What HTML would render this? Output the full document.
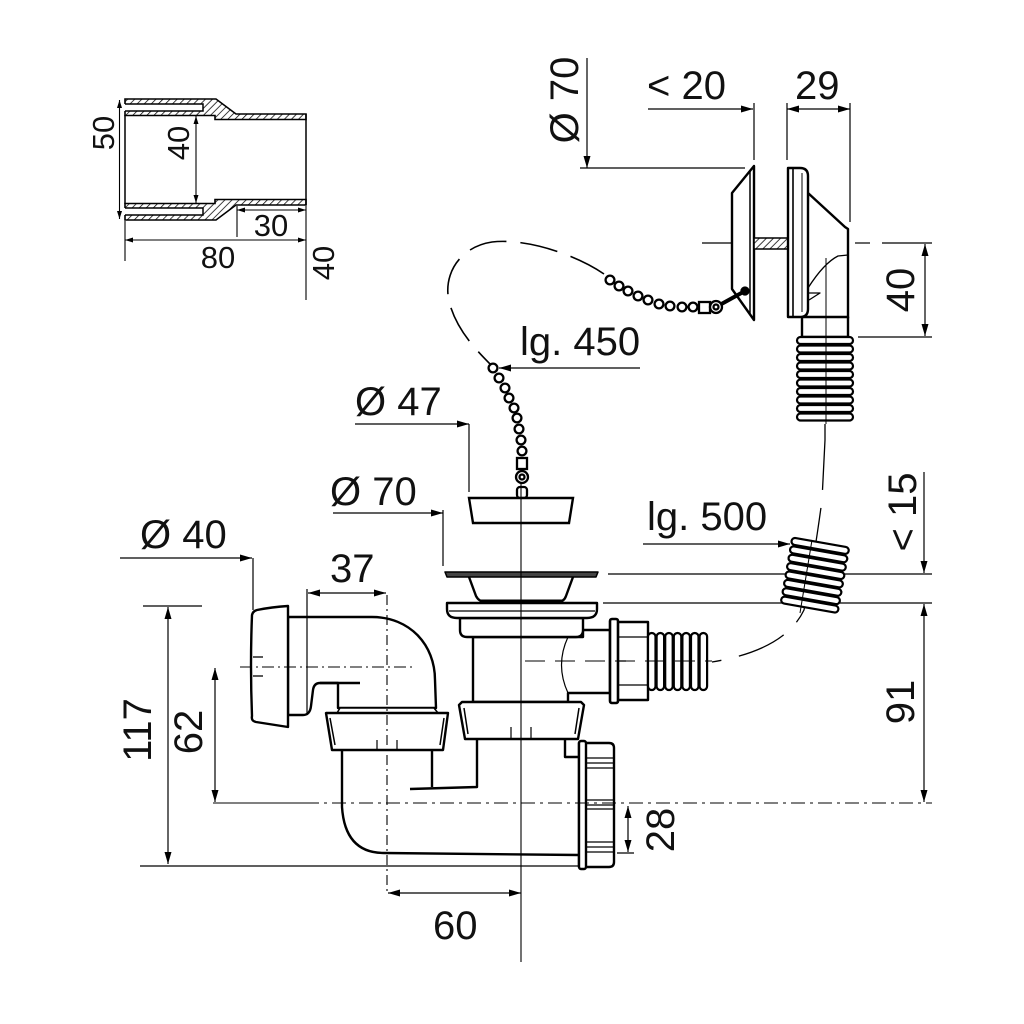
<!DOCTYPE html>
<html><head><meta charset="utf-8"><style>
html,body{margin:0;padding:0;background:#fff;}
svg{display:block;}
text{font-family:"Liberation Sans",Arial,sans-serif;fill:#111;}
</style></head><body>
<svg width="1024" height="1024" viewBox="0 0 1024 1024" xmlns="http://www.w3.org/2000/svg">
<defs>
<marker id="a" viewBox="0 0 12 7" refX="12" refY="3.5" markerWidth="12" markerHeight="7" markerUnits="userSpaceOnUse" orient="auto-start-reverse"><path d="M0,0 L12,3.5 L0,7 z" fill="#000"/></marker>
<marker id="s" viewBox="0 0 8 5" refX="8" refY="2.5" markerWidth="8" markerHeight="5" markerUnits="userSpaceOnUse" orient="auto-start-reverse"><path d="M0,0 L8,2.5 L0,5 z" fill="#000"/></marker>
<pattern id="h" width="5" height="5" patternUnits="userSpaceOnUse" patternTransform="rotate(45)"><rect width="5" height="5" fill="#fff"/><line x1="0" y1="0" x2="0" y2="5" stroke="#000" stroke-width="1.5"/></pattern>
</defs>

<!-- ============ TOP-LEFT PIPE ============ -->
<g stroke="#000" stroke-width="1.6" fill="url(#h)">
<path d="M125,99 L216,99 L236,114 L306,114 L306,119.5 L215,119.5 L215,115.5 L125,115.5 Z"/>
<path d="M125,220 L216,220 L236,205 L306,205 L306,199.5 L215,199.5 L215,203.5 L125,203.5 Z"/>
</g>
<g stroke="#000" stroke-width="1.5" fill="#fff">
<rect x="124" y="104" width="79" height="7" stroke="none"/>
<rect x="124" y="208" width="79" height="7" stroke="none"/>
<path d="M125,104 L203,104 L203,111 L125,111" fill="none"/>
<path d="M125,215 L203,215 L203,208 L125,208" fill="none"/>
<line x1="125" y1="115" x2="125" y2="204"/>
<line x1="306" y1="114" x2="306" y2="205"/>
</g>
<g stroke="#000" stroke-width="1.1" fill="none">
<line x1="119.5" y1="100" x2="119.5" y2="219" marker-start="url(#s)" marker-end="url(#s)"/>
<line x1="196" y1="116" x2="196" y2="203" marker-start="url(#s)" marker-end="url(#s)"/>
<line x1="237" y1="210" x2="306" y2="210" marker-start="url(#s)" marker-end="url(#s)"/>
<line x1="237" y1="206" x2="237" y2="237"/>
<line x1="125" y1="240" x2="306" y2="240" marker-start="url(#s)" marker-end="url(#s)"/>
<line x1="125" y1="221" x2="125" y2="261"/>
<line x1="306" y1="206" x2="306" y2="300"/>
</g>
<text font-size="31" text-anchor="middle" transform="translate(103,133) rotate(-90)" y="11">50</text>
<text font-size="31" text-anchor="middle" transform="translate(178,143) rotate(-90)" y="11">40</text>
<text font-size="31" x="271" y="236" text-anchor="middle">30</text>
<text font-size="31" x="218" y="268" text-anchor="middle">80</text>
<text font-size="31" text-anchor="middle" transform="translate(323,263) rotate(-90)" y="11">40</text>

<!-- ============ TOP-RIGHT OVERFLOW ============ -->
<g stroke="#000" stroke-width="1.2" fill="none">
<line x1="587" y1="58" x2="587" y2="168" marker-end="url(#a)"/>
<line x1="580" y1="168" x2="745" y2="168"/>
<line x1="648" y1="109" x2="753" y2="109" marker-end="url(#a)"/>
<line x1="787" y1="109" x2="850" y2="109" marker-start="url(#a)" marker-end="url(#a)"/>
<line x1="754" y1="103" x2="754" y2="160"/>
<line x1="787" y1="103" x2="787" y2="160"/>
<line x1="850" y1="103" x2="850" y2="222"/>
<line x1="702" y1="243" x2="846" y2="243"/>
<line x1="855" y1="243" x2="870" y2="243"/>
<line x1="882" y1="243" x2="932" y2="243"/>
<line x1="925" y1="244" x2="925" y2="336" marker-start="url(#a)" marker-end="url(#a)"/>
<line x1="858" y1="337" x2="932" y2="337"/>
</g>
<text font-size="40" text-anchor="middle" transform="translate(564,100) rotate(-90)" y="14">Ø 70</text>
<text font-size="40" x="647" y="99">&lt; 20</text>
<text font-size="40" x="795" y="99">29</text>
<text font-size="40" text-anchor="middle" transform="translate(900,290) rotate(-90)" y="14">40</text>

<g stroke="#000" stroke-width="2.4" fill="#fff" stroke-linejoin="round">
<path d="M754,166 L732,193 L732,289 L754,320 Z"/>
<line x1="750" y1="171" x2="750" y2="315" stroke-width="1.5"/>
<rect x="754" y="238" width="34" height="11" fill="url(#h)" stroke-width="1.6"/>
<path d="M808,193 L845,227 L848,229 L848,318 L806,318 Z"/>
<path d="M788,168 L800,168 Q808,168 808,176 L808,309 Q808,317 800,317 L788,317 Z"/>
<line x1="793" y1="168" x2="793" y2="317" stroke-width="1.6"/>
<line x1="802" y1="173" x2="802" y2="312" stroke-width="1"/>
<path d="M808,288 Q824,263 838,256 L848,255" fill="none" stroke-width="1.3"/>
<path d="M808,293 L820,293 L809,300" fill="none" stroke-width="1.3"/>
<rect x="802" y="317" width="46" height="20"/>
</g>
<!-- upper corrugated hose -->
<g stroke="#000" stroke-width="2.2" fill="#fff">
<rect x="797" y="337" width="56" height="7" rx="3.5"/>
<rect x="797" y="345.5" width="56" height="7" rx="3.5"/>
<rect x="797" y="354" width="56" height="7" rx="3.5"/>
<rect x="797" y="362.5" width="56" height="7" rx="3.5"/>
<rect x="797" y="371" width="56" height="7" rx="3.5"/>
<rect x="797" y="379.5" width="56" height="7" rx="3.5"/>
<rect x="797" y="388" width="56" height="7" rx="3.5"/>
<rect x="797" y="396.5" width="56" height="7" rx="3.5"/>
<rect x="797" y="405" width="56" height="7" rx="3.5"/>
<rect x="797" y="413.5" width="56" height="7" rx="3.5"/>
</g>
<line x1="826" y1="258" x2="826" y2="424" stroke="#000" stroke-width="1"/>

<!-- chain loop -->
<path d="M604,274 C575,254 525,238 492,242 C458,247 440,278 451,308 C459,332 476,350 492,366" fill="none" stroke="#000" stroke-width="1.6" stroke-dasharray="38 14"/>
<g stroke="#000" stroke-width="2.3" fill="#fff">
<circle cx="610" cy="280" r="4.4"/><circle cx="619" cy="286" r="4.4"/><circle cx="628" cy="291" r="4.4"/>
<circle cx="638" cy="296" r="4.4"/><circle cx="648" cy="300" r="4.4"/><circle cx="659" cy="304" r="4.4"/>
<circle cx="670" cy="306" r="4.4"/><circle cx="682" cy="307" r="4.4"/><circle cx="693" cy="307" r="4.4"/>
<rect x="699" y="302" width="11" height="11"/>
<line x1="716" y1="307" x2="745" y2="291" stroke-width="4"/>
<circle cx="745" cy="291" r="3.5" fill="#000"/>
<circle cx="716" cy="307" r="6"/>
<circle cx="716" cy="307" r="2.5"/>
</g>

<!-- lower chain + plug -->
<g stroke="#000" stroke-width="2.3" fill="#fff">
<circle cx="493" cy="368" r="4.4"/><circle cx="499" cy="378" r="4.4"/><circle cx="505" cy="388" r="4.4"/>
<circle cx="509" cy="398" r="4.4"/><circle cx="514" cy="408" r="4.4"/><circle cx="517" cy="418" r="4.4"/>
<circle cx="519" cy="429" r="4.4"/><circle cx="521" cy="440" r="4.4"/><circle cx="522" cy="451" r="4.4"/>
<rect x="517" y="458" width="10" height="11"/>
<circle cx="522" cy="477" r="6"/><circle cx="522" cy="477" r="2.5"/>
<rect x="517" y="487" width="10" height="11" rx="3"/>
<path d="M469,498 L573,498 L569,523 L473,523 Z" stroke-width="2.4"/>
</g>
<g stroke="#000" stroke-width="1.2" fill="none">
<line x1="640" y1="368" x2="499" y2="368" marker-end="url(#a)"/>
<line x1="355" y1="424" x2="469" y2="424" marker-end="url(#a)"/>
<line x1="469" y1="424" x2="469" y2="492"/>
<line x1="333" y1="513" x2="443" y2="513" marker-end="url(#a)"/>
<line x1="443" y1="510" x2="443" y2="566"/>
<line x1="643" y1="544" x2="790" y2="544" marker-end="url(#a)"/>
</g>
<text font-size="40" x="520" y="355">lg. 450</text>
<text font-size="40" x="355" y="415">Ø 47</text>
<text font-size="40" x="330" y="505">Ø 70</text>
<text font-size="40" x="647" y="530">lg. 500</text>

<!-- right dims -->
<g stroke="#000" stroke-width="1.2" fill="none">
<line x1="608" y1="574" x2="932" y2="574"/>
<line x1="603" y1="603" x2="932" y2="603"/>
<line x1="924" y1="472" x2="924" y2="573" marker-end="url(#a)"/>
<line x1="924" y1="604" x2="924" y2="802" marker-start="url(#a)" marker-end="url(#a)"/>
<line x1="628" y1="806" x2="628" y2="852" marker-start="url(#a)" marker-end="url(#a)"/>
<line x1="617" y1="853" x2="634" y2="853"/>
</g>
<text font-size="40" text-anchor="middle" transform="translate(902,512) rotate(-90)" y="14">&lt; 15</text>
<text font-size="40" text-anchor="middle" transform="translate(900,702) rotate(-90)" y="14">91</text>
<text font-size="40" text-anchor="middle" transform="translate(660,830) rotate(-90)" y="14">28</text>

<!-- hose dashed path -->
<path d="M825,424 L825,440 M825,440 L822,500 Q814,560 804,610 Q785,650 712,662" fill="none" stroke="#000" stroke-width="1.3" stroke-dasharray="50 18"/>
<!-- tilted hose -->
<g transform="translate(815,575) rotate(10)" stroke="#000" stroke-width="2.2" fill="#fff">
<rect x="-29" y="-33" width="58" height="7" rx="3.5"/>
<rect x="-29" y="-24.5" width="58" height="7" rx="3.5"/>
<rect x="-29" y="-16" width="58" height="7" rx="3.5"/>
<rect x="-29" y="-7.5" width="58" height="7" rx="3.5"/>
<rect x="-29" y="1" width="58" height="7" rx="3.5"/>
<rect x="-29" y="9.5" width="58" height="7" rx="3.5"/>
<rect x="-29" y="18" width="58" height="7" rx="3.5"/>
<rect x="-29" y="26.5" width="58" height="7" rx="3.5"/>
</g>
<line x1="812" y1="540" x2="800" y2="613" stroke="#000" stroke-width="1"/>

<!-- ============ DRAIN BODY ============ -->
<g stroke="#000" stroke-width="2.4" fill="#fff" stroke-linejoin="round">
<path d="M473,637 L473,702 L568,702 L568,693 L610,693 L610,630 L583,630 L583,637 Z"/>
<path d="M568,637 Q555,665 568,693" fill="none" stroke-width="1.2"/>
<path d="M460,618 L583,618 L583,630 Q583,637 576,637 L467,637 Q460,637 460,630 Z"/>
<path d="M447,603 L597,603 L597,609 Q597,618 587,618 L457,618 Q447,618 447,609 Z"/>
<line x1="449" y1="611" x2="595" y2="611" stroke-width="1.2"/>
<path d="M469,577 L476,596 Q479,602 486,602 L557,602 Q564,602 566,596 L573,577" />
<line x1="480" y1="601" x2="563" y2="601" stroke-width="3"/>
<path d="M445,572 L598,572 L596,577 L447,577 Z" fill="#444" stroke-width="1.5"/>
<rect x="617" y="622" width="31" height="78"/>
<line x1="618" y1="637" x2="648" y2="637" stroke-width="1.3"/>
<line x1="618" y1="685" x2="648" y2="685" stroke-width="1.3"/>
<rect x="610" y="619" width="8" height="84" rx="2" stroke-width="2.6"/>
<line x1="618" y1="661" x2="626" y2="661" stroke-width="1.3"/>
<g stroke-width="2.2">
<rect x="648" y="633" width="7.5" height="57" rx="3.7"/>
<rect x="656.6" y="633" width="7.5" height="57" rx="3.7"/>
<rect x="665.2" y="633" width="7.5" height="57" rx="3.7"/>
<rect x="673.8" y="633" width="7.5" height="57" rx="3.7"/>
<rect x="682.4" y="633" width="7.5" height="57" rx="3.7"/>
<rect x="691" y="633" width="7.5" height="57" rx="3.7"/>
<rect x="699.6" y="633" width="7.5" height="57" rx="3.7"/>
</g>
<path d="M462,702 L581,702 L584,705 L578,739 L465,739 L459,705 Z"/>
<path d="M464,708 L468,734 M579,708 L575,734" fill="none" stroke-width="1.5"/>
<path d="M511,727 L511,739 M531,727 L531,739" fill="none" stroke-width="1.2"/>
<path d="M477,739 L477,787 L410,789" fill="none"/>
<path d="M565,739 L565,757 L580,757" fill="none"/>
</g>

<!-- ============ LEFT ELBOW & TRAP ============ -->
<g stroke="#000" stroke-width="2.4" fill="#fff" stroke-linejoin="round">
<path d="M342,750 L342,807 Q345,853 384,853 L579,855" fill="none"/>
<line x1="432" y1="750" x2="432" y2="787" />
<path d="M288,617 L372,617 C410,617 435,645 435,680 L436,708 L338,708 L338,683 L320,683 Q314,683 313,690 L311,706 Q310,715 303,715 L288,715 Z"/>
<line x1="320" y1="683" x2="360" y2="683"/>
<path d="M257,610 Q272,607 288,606 L288,727 L256,722 Q251,721 252,716 Q250,665 252,615 Q253,611 257,610 Z"/>
<line x1="253" y1="657" x2="263" y2="657" stroke-width="1.3"/>
<line x1="253" y1="676" x2="263" y2="676" stroke-width="1.3"/>
<path d="M337,713 L340,708 L434,708 L438,713 Z" stroke-width="1.5"/>
<path d="M326,713 L448,713 L443,750 L332,750 Z"/>
<path d="M330,718 L335,745 M444,718 L440,745" fill="none" stroke-width="1.5"/>
<path d="M377,740 L377,750 M397,740 L397,750" fill="none" stroke-width="1.2"/>
<path d="M579,743 L609,743 Q614,743 614,748 L614,862 Q614,867 609,867 L579,867 Z"/>
<rect x="579" y="741" width="7" height="128" rx="2" stroke-width="2.4"/>
<g stroke-width="1.2" fill="none">
<line x1="587" y1="758" x2="613" y2="758"/><line x1="587" y1="763" x2="613" y2="763"/><line x1="587" y1="768" x2="613" y2="768"/>
<line x1="587" y1="800" x2="613" y2="800"/><line x1="587" y1="805" x2="613" y2="805"/><line x1="587" y1="809" x2="613" y2="809"/>
<line x1="587" y1="842" x2="613" y2="842"/><line x1="587" y1="847" x2="613" y2="847"/><line x1="587" y1="852" x2="613" y2="852"/>
</g>
</g>

<!-- left dims -->
<g stroke="#000" stroke-width="1.2" fill="none">
<line x1="120" y1="558" x2="252" y2="558" marker-end="url(#a)"/>
<line x1="253" y1="558" x2="253" y2="610"/>
<line x1="307" y1="589" x2="307" y2="715"/>
<line x1="308" y1="593" x2="386" y2="593" marker-start="url(#a)" marker-end="url(#a)"/>
<line x1="143" y1="606" x2="202" y2="606"/>
<line x1="168" y1="607" x2="168" y2="864" marker-start="url(#a)" marker-end="url(#a)"/>
<line x1="215" y1="668" x2="215" y2="802" marker-start="url(#a)" marker-end="url(#a)"/>
<line x1="140" y1="866" x2="580" y2="866"/>
<line x1="388" y1="893" x2="521" y2="893" marker-start="url(#a)" marker-end="url(#a)"/>
</g>
<text font-size="40" x="140" y="548">Ø 40</text>
<text font-size="40" x="330" y="582">37</text>
<text font-size="40" text-anchor="middle" transform="translate(188,732) rotate(-90)" y="14">62</text>
<text font-size="40" text-anchor="middle" transform="translate(137,730) rotate(-90)" y="14">117</text>
<text font-size="40" x="433" y="939">60</text>

<!-- center lines -->
<g stroke="#000" stroke-width="1.1" fill="none">
<line x1="521" y1="482" x2="521" y2="962"/>
<line x1="387" y1="595" x2="387" y2="893" stroke-dasharray="10 4 2 4"/>
<line x1="240" y1="667" x2="413" y2="667" stroke-dasharray="12 4 2 4"/>
<line x1="213" y1="803" x2="305" y2="803"/>
<line x1="305" y1="803" x2="932" y2="803" stroke-dasharray="14 5 3 5"/>
<line x1="525" y1="661" x2="712" y2="661" stroke-dasharray="20 10"/>
</g>
</svg>
</body></html>
